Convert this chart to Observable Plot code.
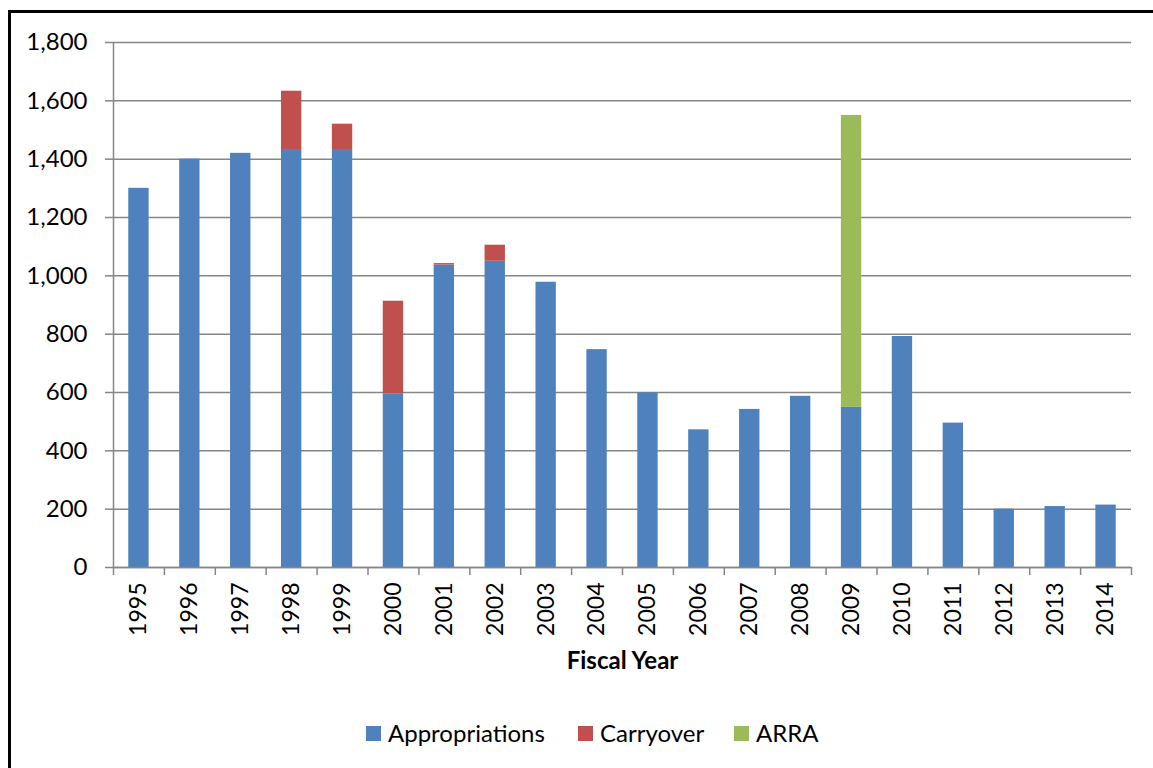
<!DOCTYPE html>
<html><head><meta charset="utf-8">
<script src="https://cdn.jsdelivr.net/npm/d3@7"></script>
<script src="https://cdn.jsdelivr.net/npm/@observablehq/plot@0.6"></script>
<style>
body{margin:0;background:#fff;font-family:Lato,sans-serif;}
#wrap{position:relative;width:1153px;height:768px;overflow:hidden;background:#fff;}
#frame{position:absolute;left:8px;top:10px;width:2000px;height:2000px;border-left:3px solid #000;border-top:3px solid #000;pointer-events:none;}
#chart{position:absolute;left:0;top:0;}
#legend{position:absolute;left:0;top:718px;width:1153px;height:30px;font-size:24px;color:#000;line-height:30px;}
.item{position:absolute;top:0;display:flex;align-items:center;height:30px;}
.sw{width:15px;height:15px;margin-right:7px;}
</style></head>
<body>
<div id="wrap"><div id="chart"></div><div id="frame"></div><div id="legend"></div></div>
<script>
const years = ["1995","1996","1997","1998","1999","2000","2001","2002","2003","2004","2005","2006","2007","2008","2009","2010","2011","2012","2013","2014"];
const appropriations = [1300,1400,1420,1430,1430,595,1037,1050,978,747,599,472,542,587,549,792,495,200,209,214];
const carryover = [0,0,0,203,90,318,5,55,0,0,0,0,0,0,0,0,0,0,0,0];
const arra = [0,0,0,0,0,0,0,0,0,0,0,0,0,0,1001,0,0,0,0,0];
const series = ["Appropriations","Carryover","ARRA"];
const colors = ["#4F81BD","#C0504D","#9BBB59"];
const yTicks = [0,200,400,600,800,1000,1200,1400,1600,1800];

const data = [];
years.forEach((y,i)=>{
  [appropriations[i], carryover[i], arra[i]].forEach((v,k)=>{
    if (v > 0) data.push({year:y, series:series[k], value:v});
  });
});

const W = 1153, mL = 113, mR = 22;
const half = (W - mL - mR) / years.length / 2;
const grey = "#868686";

const chart = Plot.plot({
  width: W, height: 700,
  marginLeft: mL, marginRight: mR, marginTop: 42, marginBottom: 133,
  style: {fontFamily: "Lato, sans-serif", fontSize: "24px", color: "#000", background: "transparent"},
  x: {domain: years, paddingInner: 0.6, paddingOuter: 0.3, round: false, label: null},
  y: {domain: [0,1800], label: null},
  color: {domain: series, range: colors},
  marks: [
    Plot.gridY(yTicks, {stroke: grey, strokeOpacity: 1, strokeWidth: 1.5}),
    Plot.barY(data, {x: "year", y: "value", fill: "series"}),
    Plot.ruleY([0], {stroke: grey, strokeWidth: 1.5}),
    Plot.ruleX([years[0]], {dx: -half, y1: 0, y2: 1800, stroke: grey, strokeWidth: 1.5}),
    Plot.axisY(yTicks, {tickSize: 8, tickPadding: 18, tickFormat: d3.format(","), stroke: grey, strokeWidth: 1.5, fontSize: 24, label: null}),
    Plot.axisX(years, {tickSize: 8, text: null, dx: -half, stroke: grey, strokeWidth: 1.5, label: null}),
    Plot.axisX([years[years.length-1]], {tickSize: 8, text: null, dx: half, stroke: grey, strokeWidth: 1.5, label: null}),
    Plot.axisX(years, {tickSize: 0, tickRotate: -90, tickPadding: 15, fontSize: 23, label: null}),
    Plot.text(["Fiscal Year"], {frameAnchor: "bottom", dy: 101, fontWeight: "bold", fontSize: 24, fill: "#000"})
  ]
});
document.getElementById("chart").appendChild(chart);

const legend = document.getElementById("legend");
const legendLeft = [366, 578, 734];
series.forEach((s,i)=>{
  const it = document.createElement("div"); it.className = "item"; it.style.left = legendLeft[i] + "px";
  const sw = document.createElement("div"); sw.className = "sw"; sw.style.background = colors[i];
  const t = document.createElement("span"); t.textContent = s;
  it.appendChild(sw); it.appendChild(t); legend.appendChild(it);
});
</script>
</body></html>
